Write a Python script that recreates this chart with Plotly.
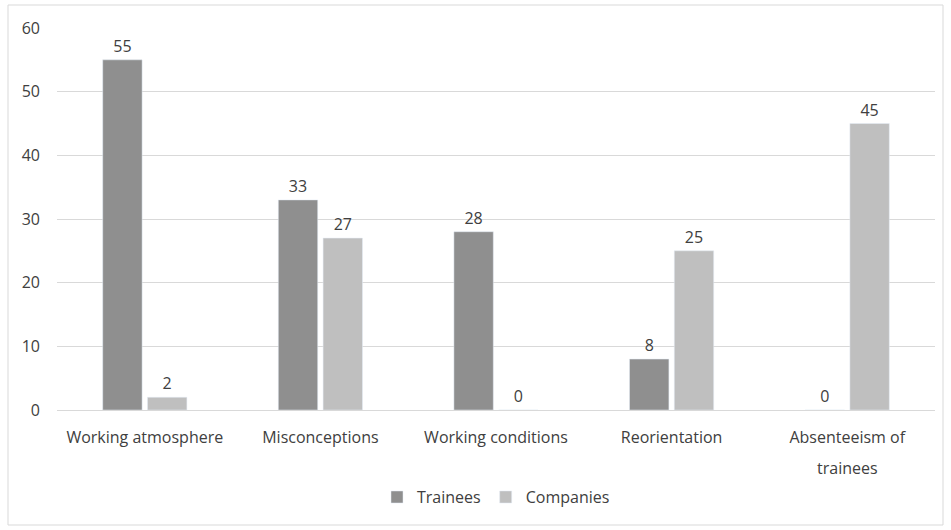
import plotly.graph_objects as go

categories = ["Working atmosphere", "Misconceptions", "Working conditions", "Reorientation", "Absenteeism of trainees"]
tick_labels = ["Working atmosphere", "Misconceptions", "Working conditions", "Reorientation", "Absenteeism of"]
trainees = [55, 33, 28, 8, 0]
companies = [2, 27, 0, 25, 45]
y_ticks = [0, 10, 20, 30, 40, 50, 60]

font_family = "Open Sans, sans-serif"
text_color = "#404040"

fig = go.Figure()
fig.add_trace(go.Bar(name="Trainees", x=categories, y=trainees, marker_color="#8f8f8f",
                     text=[str(v) for v in trainees], textposition="outside", cliponaxis=False,
                     textfont=dict(size=16, color=text_color, family=font_family)))
fig.add_trace(go.Bar(name="Companies", x=categories, y=companies, marker_color="#bfbfbf",
                     text=[str(v) for v in companies], textposition="outside", cliponaxis=False,
                     textfont=dict(size=16, color=text_color, family=font_family)))

W, H = 951, 530
l, r, t, b = 57, 16, 28, 120
pw, ph = W - l - r, H - t - b

fig.update_layout(
    width=W, height=H,
    margin=dict(l=l, r=r, t=t, b=b),
    paper_bgcolor="white", plot_bgcolor="white",
    barmode="group", bargap=0.49, bargroupgap=0.12,
    font=dict(family=font_family, size=16, color=text_color),
    showlegend=True,
    legend=dict(orientation="h", x=0.5, xanchor="center", y=-0.228, yanchor="middle",
                font=dict(size=16, color=text_color), itemwidth=30, traceorder="normal"),
    xaxis=dict(showgrid=False, showline=False, ticks="", tickfont=dict(size=16, color=text_color),
               tickvals=categories, ticktext=tick_labels, ticklabelstandoff=16),
    yaxis=dict(range=[0, 60], tickvals=y_ticks, showgrid=True, gridcolor="#d9d9d9", gridwidth=1,
               zeroline=True, zerolinecolor="#d9d9d9", zerolinewidth=1, showline=False,
               tickfont=dict(size=16, color=text_color), ticklabelstandoff=16),
    shapes=[dict(type="rect", xref="paper", yref="paper",
                 x0=(8 - l) / pw, x1=(943 - l) / pw,
                 y0=(t + ph - 525) / ph, y1=(t + ph - 5) / ph,
                 line=dict(color="#d9d9d9", width=1), fillcolor="rgba(0,0,0,0)", layer="below")],
    annotations=[dict(text="trainees", x=categories[-1], xref="x", y=(t + ph - 468) / ph, yref="paper",
                      yanchor="middle", showarrow=False, font=dict(size=16, color=text_color))],
)

fig.write_html("out.html")
